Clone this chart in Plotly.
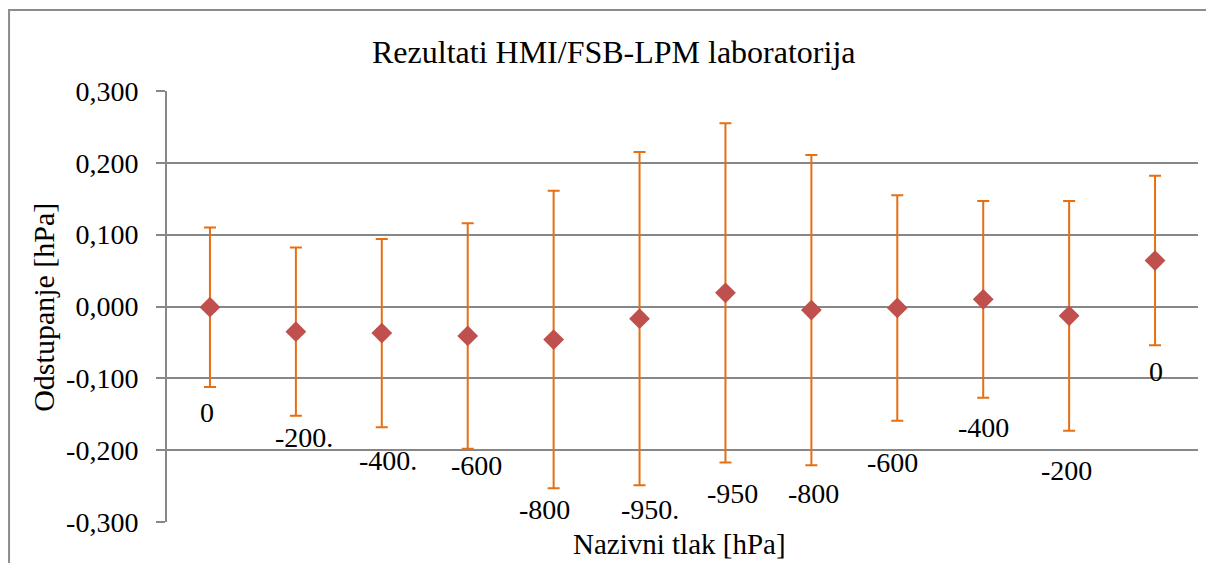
import plotly.graph_objects as go

# Data
categories = ["0", "-200.", "-400.", "-600", "-800", "-950.", "-950", "-800", "-600", "-400", "-200", "0"]
deviation = [-0.001, -0.035, -0.037, -0.041, -0.046, -0.017, 0.019, -0.005, -0.002, 0.010, -0.013, 0.064]
uncertainty = [0.111, 0.117, 0.131, 0.157, 0.207, 0.232, 0.236, 0.216, 0.157, 0.137, 0.160, 0.118]
y_ticks = [-0.3, -0.2, -0.1, 0.0, 0.1, 0.2, 0.3]
y_tick_text = ["-0,300", "-0,200", "-0,100", "0,000", "0,100", "0,200", "0,300"]

# label placement (data units / pixel shifts) - style only
label_y = [-0.147, -0.182, -0.214, -0.222, -0.283, -0.283, -0.260, -0.261, -0.217, -0.168, -0.228, -0.091]
label_dx = [-3, 8, 6, 9, -9, 10, 7, 2, -5, 0, -3, 1]

FONT = "Liberation Serif"
FS = 28
GRID = "#878787"

idx = list(range(len(categories)))

fig = go.Figure()
fig.add_trace(go.Scatter(
    x=idx, y=deviation, mode="markers",
    marker=dict(symbol="diamond", size=16, color="#C0504D", line=dict(width=0)),
    error_y=dict(type="data", array=uncertainty, visible=True, color="#E66F12", thickness=2, width=6),
    hoverinfo="skip", showlegend=False,
))

annotations = []
for i, (t, ly, dx) in enumerate(zip(categories, label_y, label_dx)):
    annotations.append(dict(x=i, y=ly, xref="x", yref="y", text=t, showarrow=False,
                            xanchor="center", yanchor="middle", xshift=dx, yshift=0,
                            font=dict(family=FONT, size=FS, color="black")))

annotations.append(dict(text="Rezultati HMI/FSB-LPM laboratorija", x=0.4336, y=1.0905,
                        xref="paper", yref="paper", showarrow=False, xanchor="center", yanchor="middle",
                        font=dict(family=FONT, size=32, color="black")))
annotations.append(dict(text="Nazivni tlak [hPa]", x=0.4975, y=-0.051,
                        xref="paper", yref="paper", showarrow=False, xanchor="center", yanchor="middle",
                        font=dict(family=FONT, size=29, color="black")))
annotations.append(dict(text="Odstupanje [hPa]", x=-0.1193, y=0.497, textangle=-90,
                        xref="paper", yref="paper", showarrow=False, xanchor="center", yanchor="middle",
                        font=dict(family=FONT, size=30, color="black")))

fig.update_layout(
    width=1206, height=563,
    margin=dict(l=167, r=8, t=91, b=41),
    paper_bgcolor="white", plot_bgcolor="white",
    font=dict(family=FONT, size=FS, color="black"),
    annotations=annotations,
    shapes=[dict(type="rect", xref="paper", yref="paper", x0=-0.1532, y0=-0.3, x1=1.2, y1=1.188,
                 line=dict(color="#8c8c8c", width=2), layer="below")],
)
fig.update_xaxes(range=[-0.5, len(categories) - 0.5], showgrid=False, zeroline=False,
                 showticklabels=False, ticks="", showline=False)
fig.update_yaxes(range=[-0.3, 0.3], tickvals=y_ticks, ticktext=y_tick_text,
                 showgrid=True, gridcolor=GRID, gridwidth=2, zeroline=False,
                 showline=True, linecolor=GRID, linewidth=2,
                 ticks="outside", ticklen=9, tickcolor=GRID, tickwidth=2,
                 ticklabelstandoff=12,
                 tickfont=dict(family=FONT, size=FS, color="black"))

fig.write_html("out.html", config={"displayModeBar": False},
               post_script="document.body.style.margin='0';document.body.style.overflow='hidden';")
